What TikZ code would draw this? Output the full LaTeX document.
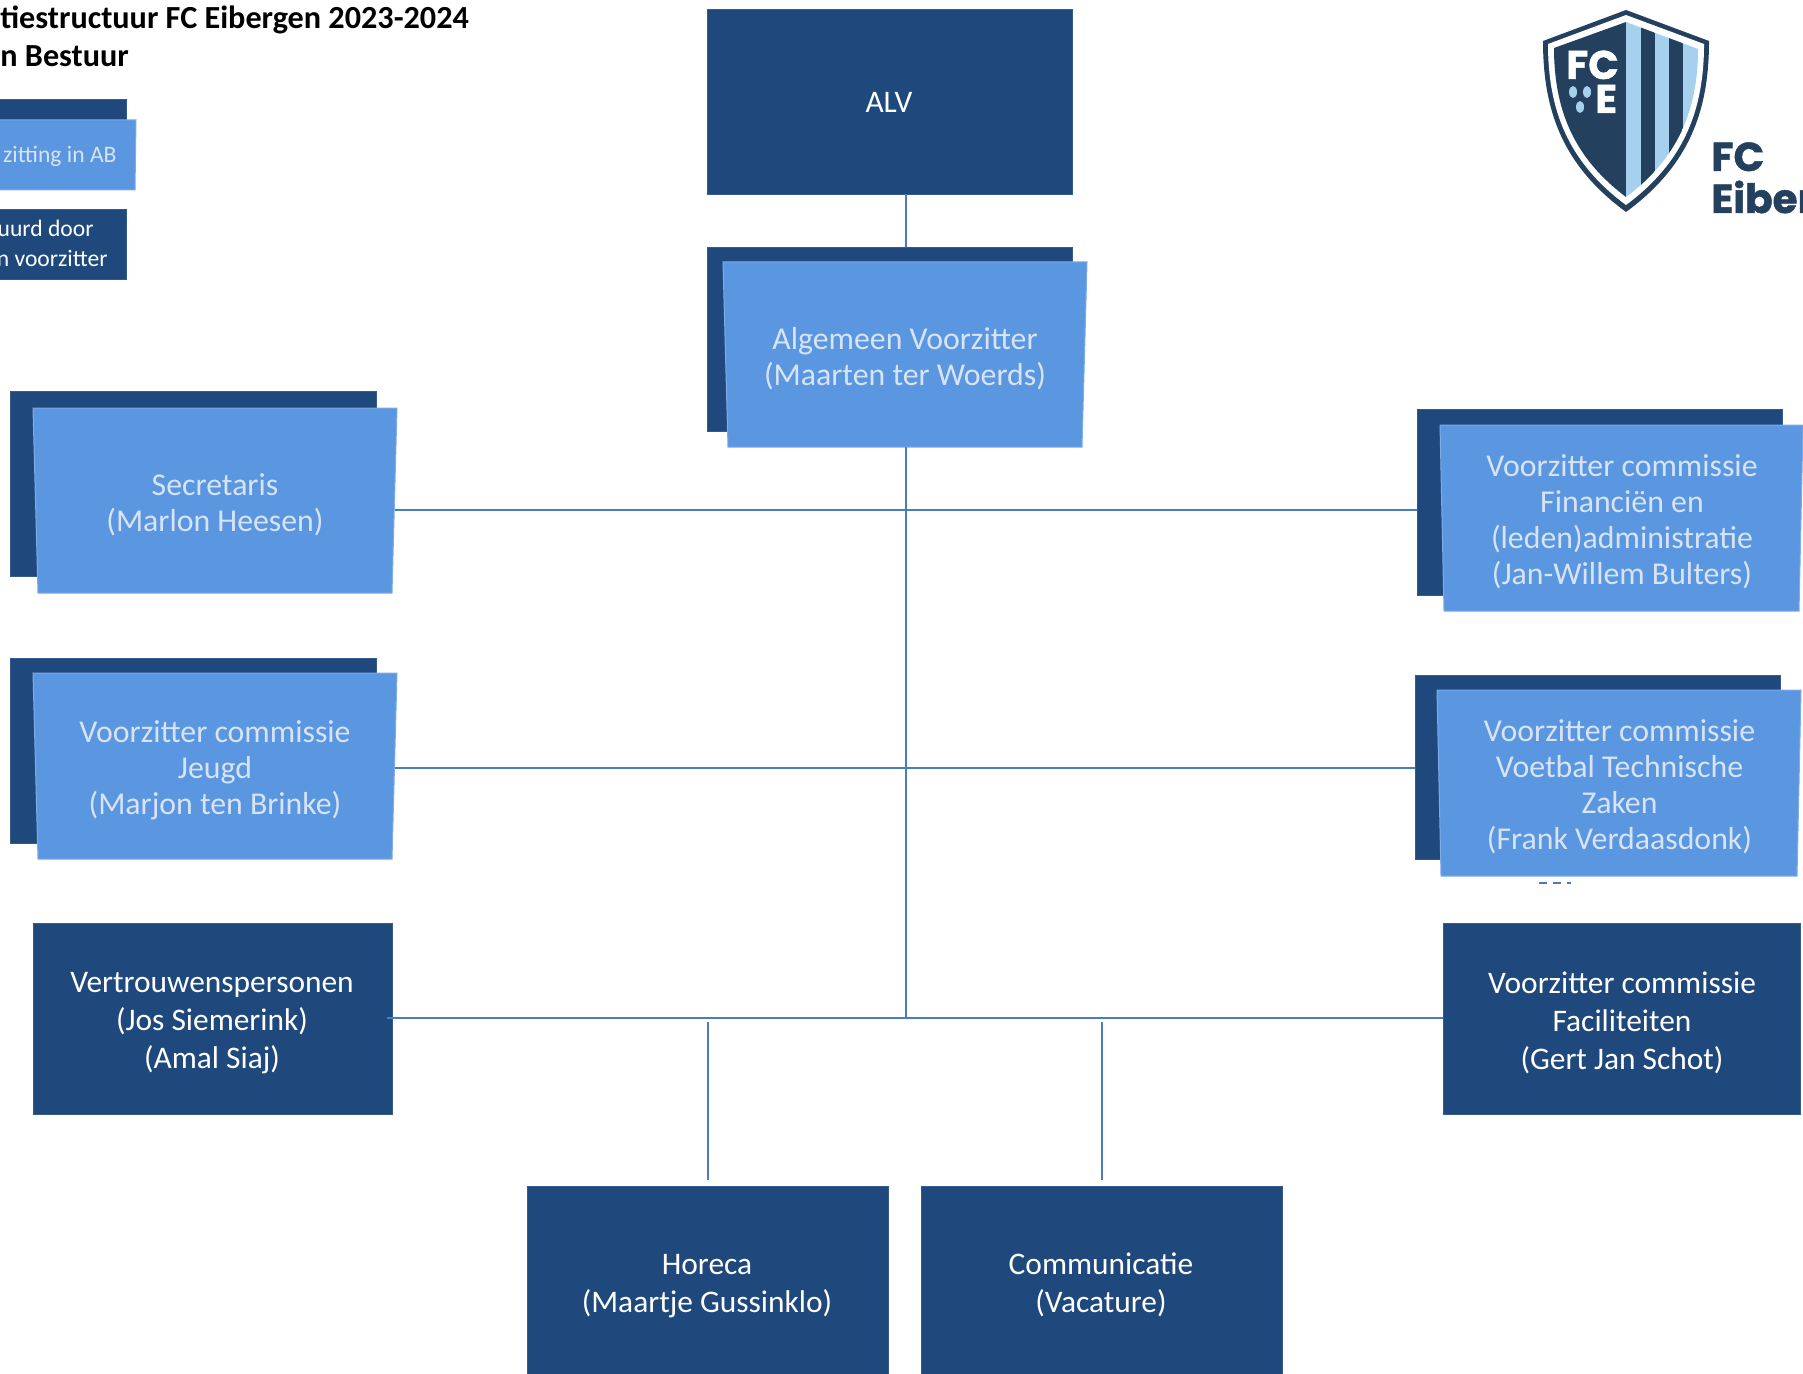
\documentclass[tikz,border=0pt]{standalone}
\usepackage{fontspec}
\setmainfont{Carlito}
\newfontfamily\logofont[BoldFeatures={FakeBold=1.2}]{Poppins}
\definecolor{darkblue}{HTML}{1F497D}
\definecolor{lightblue}{HTML}{5B96E0}
\definecolor{lightedge}{HTML}{7FABE6}
\definecolor{linkblue}{HTML}{4A7EBB}
\definecolor{softtext}{HTML}{D6E4F6}
\definecolor{logonavy}{HTML}{24405F}
\definecolor{logosky}{HTML}{A6D1EE}
\tikzset{
  darkbox/.style={rectangle,fill=darkblue,draw=darkblue!90!white,line width=0.2pt,inner sep=0pt},
  darklabel/.style={inner sep=0pt,text=white,align=center,font=\fontsize{15.7}{19}\selectfont},
  softlabel/.style={rectangle,inner sep=0pt,text=softtext,align=center,font=\fontsize{15.9}{18}\selectfont},
  softshape/.style={fill=lightblue,draw=lightedge,line width=0.5pt},
  link/.style={draw=linkblue,line width=0.8pt},
  legendtext/.style={inner sep=0pt,font=\fontsize{11.8}{14}\selectfont},
  titletext/.style={inner sep=0pt,font=\fontsize{16.1}{19}\selectfont\bfseries,text=black},
  logoletter/.style={inner sep=0pt,text=white,font=\logofont\fontsize{20}{20}\selectfont\bfseries,anchor=base west},
  brandletter/.style={inner sep=0pt,text=logonavy,font=\logofont\fontsize{20.2}{20.2}\selectfont\bfseries,anchor=base west},
}
% dark box: name, x1, y1, x2, y2
\newcommand{\darkrect}[5]{\node[darkbox,minimum width={(#4-#2-1)*0.5pt},minimum height={(#5-#3)*0.5pt}] (#1) at ({(#2+#4-1)/2},{(#3+#5)/2}) {};}
% light box: name, top-left x, top-right x, top y, bottom-left x, bottom-right x, bottom y, text
\newcommand{\softrect}[8]{\path[softshape] (#2,#4) -- (#3,#4) -- (#6,#7) -- (#5,#7) -- cycle;
  \node[softlabel,minimum width={(#3-#2-5)*0.5pt},minimum height={(#7-#4-8)*0.5pt}] (#1) at ({(#2+#6)/2+2.5},{(#4+#7)/2+4}) {#8};}
\begin{document}
\begin{tikzpicture}[x=0.5pt,y=-0.5pt]
\useasboundingbox (0,0) rectangle (1803,1374);
% title
\node[titletext,anchor=base west] (title1) at (0,29) {tiestructuur FC Eibergen 2023-2024};
\node[titletext,anchor=base west] (title2) at (0,67) {n Bestuur};
% legend
\darkrect{legback}{-30}{99}{127}{170}
\softrect{legfront}{-30}{136}{120}{-30}{135}{190}{}
\node[legendtext,text=softtext,anchor=east] (legt) at (117,156) {zitting in AB};
\darkrect{legdark}{-30}{209}{127}{279}
\node[legendtext,text=white,anchor=east] (legd1) at (94,228) {uurd door};
\node[legendtext,text=white,anchor=east] (legd2) at (108,258) {n voorzitter};
% boxes
\darkrect{alv}{707}{9}{1073}{194}
\node[darklabel] (alvt) at (889,102) {ALV};
\darkrect{avback}{707}{247}{1073}{431}
\darkrect{secback}{10}{391}{377}{576}
\darkrect{jeugdback}{10}{658}{377}{843}
\darkrect{finback}{1417}{409}{1783}{595}
\darkrect{voetback}{1415}{675}{1781}{859}
\softrect{av}{723}{1087}{262}{728}{1082}{447}{Algemeen Voorzitter\\(Maarten ter Woerds)}
\softrect{sec}{33}{397}{408}{38}{392}{593}{Secretaris\\(Marlon Heesen)}
\softrect{jeugd}{33}{397}{673}{38}{392}{859}{Voorzitter commissie\\Jeugd\\(Marjon ten Brinke)}
\softrect{fin}{1440}{1803}{425}{1444}{1799}{611}{Voorzitter commissie\\Financiën en\\(leden)administratie\\(Jan-Willem Bulters)}
\softrect{voet}{1437}{1801}{690}{1441}{1797}{876}{Voorzitter commissie\\Voetbal Technische\\Zaken\\(Frank Verdaasdonk)}
\darkrect{vert}{33}{923}{393}{1114}
\node[darklabel] (vertt) at (212,1023) {Vertrouwenspersonen\\(Jos Siemerink)\\(Amal Siaj)};
\darkrect{fac}{1443}{923}{1801}{1114}
\node[darklabel] (fact) at (1622,1023) {Voorzitter commissie\\Faciliteiten\\(Gert Jan Schot)};
\darkrect{hor}{527}{1186}{889}{1400}
\node[darklabel] (hort) at (707,1286) {Horeca\\(Maartje Gussinklo)};
\darkrect{com}{921}{1186}{1283}{1400}
\node[darklabel] (comt) at (1101,1285) {Communicatie\\(Vacature)};
% connectors
\coordinate (j1) at (906,510);
\coordinate (j2) at (906,768);
\coordinate (j3) at (906,1018);
\coordinate (horfree) at (708,1022);
\coordinate (horend) at (708,1180);
\coordinate (comfree) at (1102,1022);
\coordinate (comend) at (1102,1180);
\coordinate (vertin) at (387,1018);
\draw[link] (alv.south -| j1) -- (avback.north -| j1);
\draw[link] (av.south -| j1) -- (j3);
\draw[link] (j1 -| sec.east) -- (j1 -| finback.west);
\draw[link] (j2 -| jeugd.east) -- (j2 -| voetback.west);
\draw[link] (vertin) -- (j3 -| fac.west);
\draw[link] (horfree) -- (horend);
\draw[link] (comfree) -- (comend);
\coordinate (dashstart) at (1539,883);
\coordinate (dashend) at (1571,883);
\draw[link,dash pattern=on 4pt off 3pt] (dashstart) -- (dashend);
% logo
\def\shieldouter{(1626,10) -- (1709,41) .. controls (1709,110) and (1690,165) .. (1626,212) .. controls (1562,165) and (1543,110) .. (1543,41) -- cycle}
\def\shieldinner{(1626,22) -- (1698,49) .. controls (1698,110) and (1678,158) .. (1626,197) .. controls (1574,158) and (1554,110) .. (1554,48) -- cycle}
\fill[logonavy] \shieldouter;
\fill[white] (1626,15) -- (1704,44) .. controls (1704,110) and (1684,162) .. (1626,205) .. controls (1568,162) and (1548,110) .. (1548,44) -- cycle;
\begin{scope}
\clip \shieldinner;
\fill[logonavy] (1540,0) rectangle (1626,220);
\fill[logosky] (1626,0) rectangle (1720,220);
\fill[logonavy] (1641,0) rectangle (1655,220);
\fill[logonavy] (1669,0) rectangle (1683,220);
\end{scope}
\node[logoletter] (logofc) at (1566,79) {FC};
\node[logoletter] (logoe) at (1595,113) {E};
\fill[logosky] (1573,92) ellipse (4 and 6);
\fill[logosky] (1587,92) ellipse (4 and 6);
\fill[logosky] (1580,107) ellipse (4 and 6);
\node[brandletter] (brand1) at (1711,171) {FC};
\node[brandletter] (brand2) at (1711,213) {Eiber};
\end{tikzpicture}
\end{document}
